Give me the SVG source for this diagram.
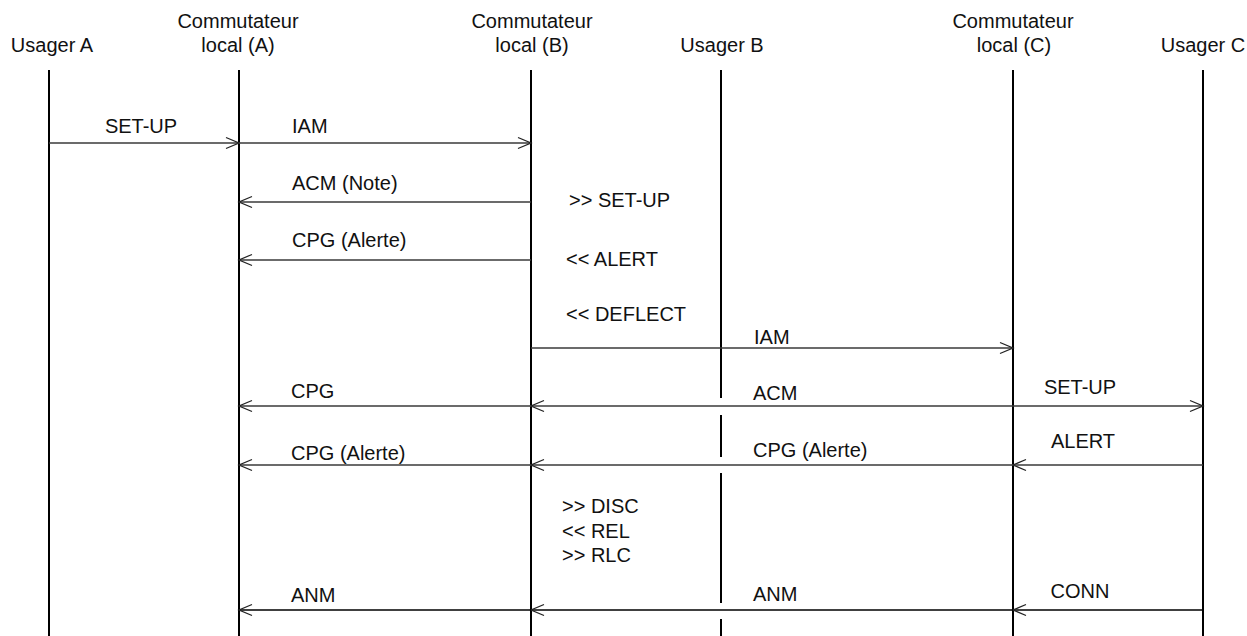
<svg xmlns="http://www.w3.org/2000/svg" width="1247" height="636" viewBox="0 0 1247 636">
<style>
text{font-family:"Liberation Sans",Arial,sans-serif;font-size:20px;fill:#111}
.c{text-anchor:middle}
.life{stroke:#000;stroke-width:2;fill:none}
.msg{stroke:#3a3a3a;stroke-width:1.3;fill:none}
.msgk{stroke:#000;stroke-width:1.3;fill:none}
</style>
<defs>
<marker id="ah" viewBox="-15 -8 17 16" markerWidth="17" markerHeight="16" refX="0" refY="0" orient="auto" markerUnits="userSpaceOnUse">
<path d="M-13,-5.5 L0,0 L-13,5.5" fill="none" stroke="#222" stroke-width="1.3"/>
</marker>
</defs>
<rect width="1247" height="636" fill="#fff"/>
<g id="usagerA">
<text class="c" x="52" y="52">Usager A</text>
<line class="life" x1="49" y1="70" x2="49" y2="636"/>
</g>
<g id="commA">
<text class="c" x="238" y="28">Commutateur</text>
<text class="c" x="238" y="52">local (A)</text>
<line class="life" x1="239" y1="70" x2="239" y2="636"/>
</g>
<g id="commB">
<text class="c" x="532" y="28">Commutateur</text>
<text class="c" x="532" y="52">local (B)</text>
<line class="life" x1="531" y1="70" x2="531" y2="636"/>
</g>
<g id="usagerB">
<text class="c" x="722" y="52">Usager B</text>
<path class="life" d="M721,70 V398 M721,415 V457 M721,473 V603 M721,619 V636"/>
</g>
<g id="commC">
<text class="c" x="1013" y="28">Commutateur</text>
<text class="c" x="1014" y="52">local (C)</text>
<line class="life" x1="1013" y1="70" x2="1013" y2="636"/>
</g>
<g id="usagerC">
<text class="c" x="1203" y="52">Usager C</text>
<line class="life" x1="1203" y1="70" x2="1203" y2="636"/>
</g>
<g id="connectors">
<line class="msg" x1="49" y1="143" x2="239" y2="143" marker-end="url(#ah)"/>
<line class="msg" x1="239" y1="143" x2="531" y2="143" marker-end="url(#ah)"/>
<line class="msg" x1="531" y1="202" x2="239" y2="202" marker-end="url(#ah)"/>
<line class="msg" x1="531" y1="260" x2="239" y2="260" marker-end="url(#ah)"/>
<line class="msg" x1="531" y1="348" x2="1013" y2="348" marker-end="url(#ah)"/>
<line class="msg" x1="1013" y1="406" x2="531" y2="406" marker-end="url(#ah)"/>
<line class="msg" x1="531" y1="406" x2="239" y2="406" marker-end="url(#ah)"/>
<line class="msg" x1="1013" y1="406" x2="1203" y2="406" marker-end="url(#ah)"/>
<line class="msg" x1="1203" y1="465" x2="1013" y2="465" marker-end="url(#ah)"/>
<line class="msg" x1="1013" y1="465" x2="531" y2="465" marker-end="url(#ah)"/>
<line class="msg" x1="531" y1="465" x2="239" y2="465" marker-end="url(#ah)"/>
<line class="msgk" x1="1203" y1="610" x2="1013" y2="610" marker-end="url(#ah)"/>
<line class="msgk" x1="1013" y1="610" x2="531" y2="610" marker-end="url(#ah)"/>
<line class="msgk" x1="531" y1="610" x2="239" y2="610" marker-end="url(#ah)"/>
</g>
<g id="labels">
<text class="c" x="141" y="133">SET-UP</text>
<text x="292" y="133">IAM</text>
<text x="292" y="190">ACM (Note)</text>
<text x="292" y="247">CPG (Alerte)</text>
<text x="569" y="207">&gt;&gt; SET-UP</text>
<text x="566" y="266">&lt;&lt; ALERT</text>
<text x="566" y="321">&lt;&lt; DEFLECT</text>
<text x="754" y="344">IAM</text>
<text x="291" y="398">CPG</text>
<text x="753" y="400">ACM</text>
<text class="c" x="1080" y="394">SET-UP</text>
<text x="291" y="460">CPG (Alerte)</text>
<text x="753" y="457">CPG (Alerte)</text>
<text class="c" x="1083" y="448">ALERT</text>
<text x="562" y="513">&gt;&gt; DISC</text>
<text x="562" y="538">&lt;&lt; REL</text>
<text x="562" y="562">&gt;&gt; RLC</text>
<text x="291" y="602">ANM</text>
<text x="753" y="601">ANM</text>
<text class="c" x="1080" y="598">CONN</text>
</g>
</svg>
